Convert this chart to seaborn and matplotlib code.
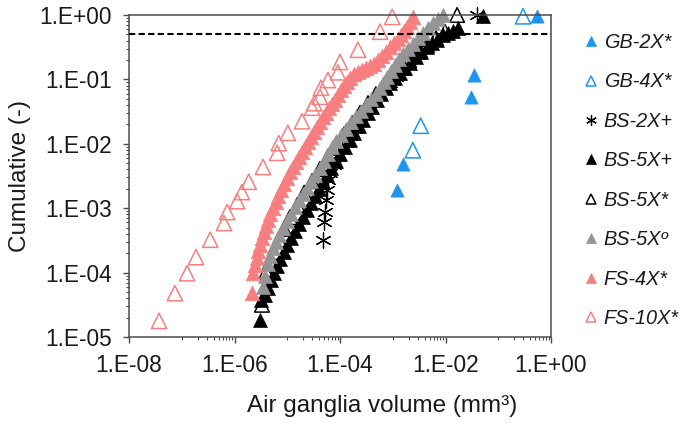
import numpy as np
import pandas as pd
import matplotlib
matplotlib.use("Agg")
import matplotlib.pyplot as plt
from matplotlib.lines import Line2D
from matplotlib.ticker import LogLocator, FuncFormatter, NullFormatter
import seaborn as sns

# ---------------- data (log10 values) ----------------
series_names = ["GB-2X*", "GB-4X*", "BS-2X+", "BS-5X+", "BS-5X*", "BS-5Xº", "FS-4X*", "FS-10X*"]

gb2x_logv = [-2.92, -2.81, -1.52, -1.46, -0.27]
gb2x_logc = [-2.72, -2.31, -1.27, -0.93, -0.02]

gb4x_logv = [-2.62, -2.47, -0.53]
gb4x_logc = [-2.10, -1.72, -0.02]

bs2x_plus_logv = [-4.32, -4.30, -4.28, -4.27, -4.25, -4.23, -4.19, -4.11, -4.04, -3.96,
                  -3.89, -3.81, -3.72, -3.62, -3.53, -3.43, -3.34, -3.24, -3.15, -3.05,
                  -2.94, -2.81, -2.71, -2.60, -2.48, -2.37, -2.26, -1.40]
bs2x_plus_logc = [-3.49, -3.21, -3.06, -2.87, -2.72, -2.56, -2.45, -2.33, -2.20, -2.10,
                  -1.99, -1.88, -1.77, -1.66, -1.55, -1.44, -1.34, -1.24, -1.15, -1.06,
                  -0.96, -0.87, -0.78, -0.68, -0.59, -0.50, -0.42, 0.00]

bs5x_plus_logv = [-5.52, -5.50, -5.42, -5.36, -5.31, -5.25, -5.19, -5.14, -5.06, -5.00,
                  -4.93, -4.85, -4.78, -4.70, -4.63, -4.55, -4.47, -4.40, -4.32, -4.25,
                  -4.17, -4.08, -4.00, -3.90, -3.81, -3.73, -3.64, -3.56, -3.47, -3.39,
                  -3.30, -3.22, -3.13, -3.05, -2.96, -2.86, -2.77, -2.67, -2.56, -2.47,
                  -2.35, -2.26, -2.16, -2.05, -1.95, -1.86, -1.76, -1.29]
bs5x_plus_logc = [-4.74, -4.43, -4.35, -4.24, -4.12, -4.01, -3.90, -3.79, -3.68, -3.57,
                  -3.46, -3.35, -3.25, -3.14, -3.03, -2.92, -2.81, -2.70, -2.59, -2.48,
                  -2.38, -2.27, -2.16, -2.05, -1.94, -1.83, -1.72, -1.63, -1.52, -1.43,
                  -1.32, -1.23, -1.13, -1.06, -0.98, -0.90, -0.82, -0.75, -0.65, -0.57,
                  -0.50, -0.43, -0.39, -0.31, -0.28, -0.25, -0.20, -0.02]

bs5x_star_logv = [-5.48, -5.40, -5.33, -5.25, -5.16, -5.06, -4.95, -4.81, -4.68, -4.53,
                  -4.38, -4.23, -4.08, -3.92, -3.77, -3.62, -3.47, -3.32, -3.17, -3.01,
                  -2.86, -2.69, -2.52, -2.35, -2.18, -2.01, -1.78]
bs5x_star_logc = [-4.50, -3.99, -3.84, -3.68, -3.49, -3.32, -3.14, -2.95, -2.76, -2.58,
                  -2.39, -2.20, -2.02, -1.85, -1.68, -1.52, -1.37, -1.23, -1.09, -0.95,
                  -0.82, -0.70, -0.57, -0.47, -0.36, -0.26, 0.00]

bs5x_o_logv = [-5.46, -5.42, -5.36, -5.33, -5.27, -5.21, -5.16, -5.08, -5.00, -4.93,
               -4.85, -4.78, -4.70, -4.63, -4.55, -4.47, -4.38, -4.30, -4.23, -4.15,
               -4.08, -3.98, -3.89, -3.79, -3.70, -3.60, -3.51, -3.41, -3.32, -3.24,
               -3.17, -3.11, -3.03, -2.96, -2.88, -2.81, -2.71, -2.62, -2.52, -2.43,
               -2.33, -2.24, -2.14, -2.05]
bs5x_o_logc = [-4.22, -4.05, -3.87, -3.74, -3.62, -3.53, -3.42, -3.31, -3.20, -3.09,
               -2.98, -2.87, -2.78, -2.69, -2.58, -2.48, -2.38, -2.27, -2.16, -2.05,
               -1.96, -1.86, -1.77, -1.66, -1.57, -1.49, -1.40, -1.30, -1.23, -1.13,
               -1.04, -0.96, -0.87, -0.78, -0.68, -0.61, -0.53, -0.45, -0.36, -0.28,
               -0.20, -0.12, -0.06, 0.00]

fs4x_logv = [-5.67, -5.65, -5.61, -5.57, -5.55, -5.52, -5.48, -5.44, -5.40, -5.36,
             -5.33, -5.27, -5.21, -5.18, -5.12, -5.06, -5.00, -4.95, -4.89, -4.83,
             -4.78, -4.72, -4.66, -4.61, -4.55, -4.49, -4.44, -4.38, -4.32, -4.27,
             -4.21, -4.15, -4.09, -4.04, -3.98, -3.92, -3.87, -3.81, -3.73, -3.66,
             -3.58, -3.51, -3.43, -3.36, -3.28, -3.20, -3.13, -3.05, -2.98, -2.90,
             -2.84, -2.79, -2.73, -2.67, -2.62]
fs4x_logc = [-4.32, -4.01, -3.88, -3.77, -3.66, -3.57, -3.46, -3.37, -3.28, -3.18,
             -3.09, -3.00, -2.90, -2.81, -2.72, -2.62, -2.53, -2.44, -2.36, -2.28,
             -2.20, -2.13, -2.05, -1.97, -1.89, -1.82, -1.74, -1.66, -1.58, -1.52,
             -1.44, -1.38, -1.32, -1.24, -1.16, -1.10, -1.04, -0.98, -0.92, -0.89,
             -0.85, -0.82, -0.79, -0.76, -0.70, -0.64, -0.57, -0.50, -0.43, -0.37,
             -0.31, -0.25, -0.19, -0.11, -0.03]

fs10x_logv = [-7.43, -7.13, -6.90, -6.73, -6.46, -6.20, -6.14, -5.95, -5.86, -5.73,
              -5.46, -5.19, -5.16, -4.99, -4.72, -4.53, -4.49, -4.38, -4.36, -4.23,
              -4.04, -4.00, -3.66, -3.24, -3.01]
fs10x_logc = [-4.75, -4.32, -4.01, -3.76, -3.49, -3.23, -3.06, -2.89, -2.75, -2.59,
              -2.36, -2.14, -1.99, -1.83, -1.65, -1.44, -1.37, -1.27, -1.13, -1.01,
              -0.89, -0.73, -0.54, -0.26, -0.03]

median_level = 0.5

# ---------------- styling ----------------
blue = "#1E96F0"
pink = "#F77F7F"
gray = "#959595"
black = "#000000"
asterisk = (6, 2, 0)

series = [
    ("GB-2X*", gb2x_logv, gb2x_logc, dict(marker="^", fc=blue, ec=blue, ms=9.5, lw=0.5)),
    ("GB-4X*", gb4x_logv, gb4x_logc, dict(marker="^", fc="none", ec=blue, ms=11.0, lw=1.1)),
    ("BS-2X+", bs2x_plus_logv, bs2x_plus_logc, dict(marker=asterisk, fc=black, ec=black, ms=11.0, lw=0.9)),
    ("BS-5X+", bs5x_plus_logv, bs5x_plus_logc, dict(marker="^", fc=black, ec=black, ms=10.0, lw=0.5)),
    ("BS-5X*", bs5x_star_logv, bs5x_star_logc, dict(marker="^", fc="none", ec=black, ms=10.5, lw=1.1)),
    ("BS-5Xº", bs5x_o_logv, bs5x_o_logc, dict(marker="^", fc=gray, ec=gray, ms=10.0, lw=0.5)),
    ("FS-4X*", fs4x_logv, fs4x_logc, dict(marker="^", fc=pink, ec=pink, ms=10.5, lw=0.5)),
    ("FS-10X*", fs10x_logv, fs10x_logc, dict(marker="^", fc="none", ec=pink, ms=11.0, lw=1.1)),
]

sns.set_theme(style="ticks")
plt.rcParams["font.family"] = ["Liberation Sans", "DejaVu Sans"]

fig = plt.figure(figsize=(6.8, 4.25), dpi=100)
ax = fig.add_axes([129 / 680, 88 / 425, 422 / 680, 322 / 425])

handles = []
for name, logv, logc, st in series:
    df = pd.DataFrame({"volume": 10.0 ** np.asarray(logv), "cumulative": 10.0 ** np.asarray(logc)})
    sns.scatterplot(data=df, x="volume", y="cumulative", ax=ax, marker=st["marker"],
                    s=st["ms"] ** 2, facecolor=st["fc"], edgecolor=st["ec"],
                    linewidth=st["lw"], clip_on=False, legend=False, zorder=2)
    handles.append(Line2D([], [], linestyle="none", marker=st["marker"], markersize=st["ms"] * 0.7,
                          markerfacecolor=st["fc"], markeredgecolor=st["ec"],
                          markeredgewidth=st["lw"], label=name))

ax.axhline(median_level, color="black", linestyle=(0, (3.0, 1.6)), linewidth=1.5, zorder=3)

ax.set_xscale("log")
ax.set_yscale("log")
ax.set_xlim(1e-8, 1)
ax.set_ylim(1e-5, 1)

ax.xaxis.set_major_locator(LogLocator(base=100, numticks=20))
ax.xaxis.set_minor_locator(LogLocator(base=100, subs=np.arange(10, 100, 10), numticks=20))
ax.yaxis.set_major_locator(LogLocator(base=10, numticks=20))
ax.yaxis.set_minor_locator(LogLocator(base=10, subs=np.arange(2, 10), numticks=20))

fmt = FuncFormatter(lambda v, p: "1.E{:+03d}".format(int(round(np.log10(v)))))
ax.xaxis.set_major_formatter(fmt)
ax.yaxis.set_major_formatter(fmt)
ax.xaxis.set_minor_formatter(NullFormatter())
ax.yaxis.set_minor_formatter(NullFormatter())

spine_col = "#4a4a4a"
for s in ax.spines.values():
    s.set_color(spine_col)
    s.set_linewidth(1.1)

ax.tick_params(axis="both", which="major", direction="out", length=4.5, width=1.0,
               color=spine_col, labelsize=16.3, labelcolor="#1a1a1a")
ax.tick_params(axis="x", which="major", pad=8)
ax.tick_params(axis="y", which="major", pad=8)
ax.tick_params(axis="both", which="minor", direction="out", length=2.5, width=0.8, color=spine_col)
ax.tick_params(top=False, right=False, which="both")

ax.set_xlabel("Air ganglia volume (mm³)", fontsize=17.5, color="#1a1a1a")
ax.set_ylabel("Cumulative (-)", fontsize=17.5, color="#1a1a1a")
ax.yaxis.set_label_coords(-0.232, 0.5)
ax.xaxis.set_label_coords(0.6, -0.18)

leg = ax.legend(handles=handles, loc="upper left", bbox_to_anchor=(583 / 680, 1 - 33 / 425),
                bbox_transform=fig.transFigure, frameon=False, borderpad=0, borderaxespad=0,
                handlelength=0.8, handletextpad=0.25, labelspacing=1.03,
                prop={"style": "italic", "size": 14.3})
for t in leg.get_texts():
    t.set_color("#1a1a1a")

fig.savefig("out.png", dpi=100)
